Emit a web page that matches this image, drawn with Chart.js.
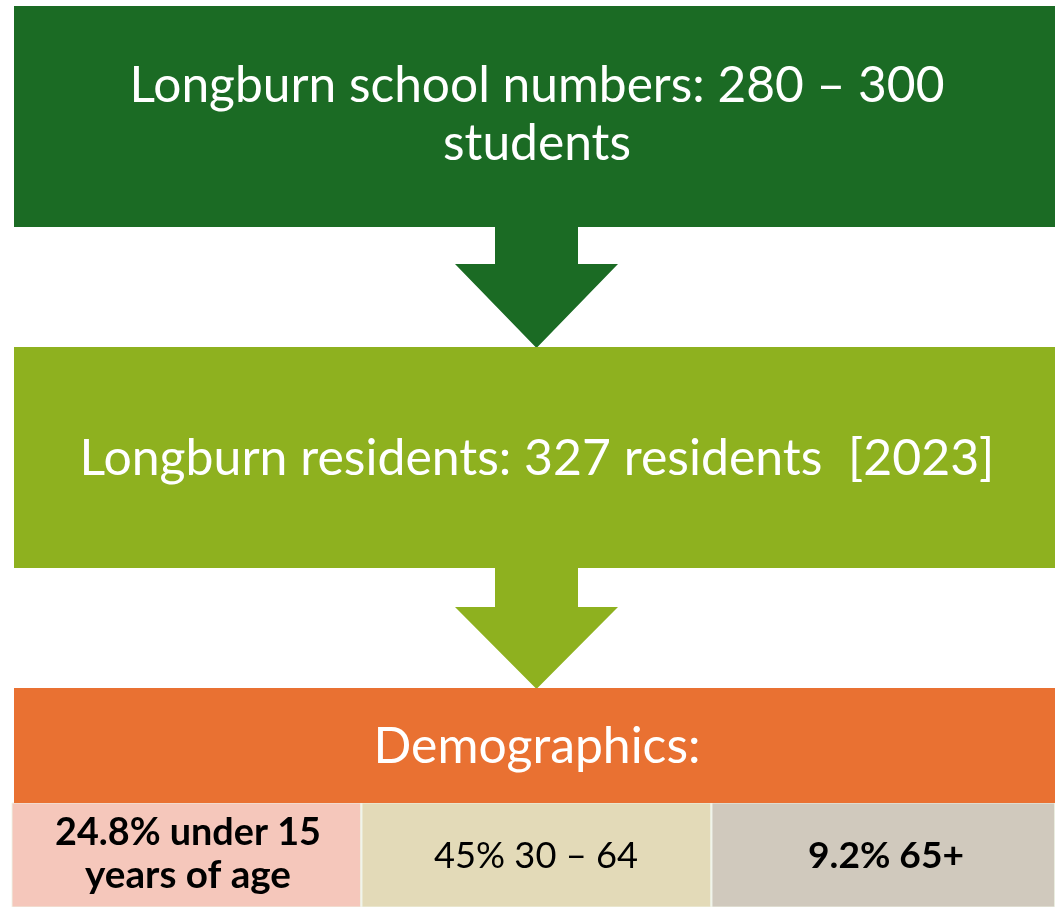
<!DOCTYPE html>
<html>
<head>
<meta charset="utf-8">
<script src="https://cdn.jsdelivr.net/npm/chart.js@4.4.0/dist/chart.umd.min.js"></script>
<style>
html,body{margin:0;padding:0;background:#fff;}
canvas{display:block;}
</style>
</head>
<body>
<canvas id="c" width="1055" height="907"></canvas>
<script>
// ---- Data (content of the infographic) ----
const schoolRange = [280, 300];
const residents = 327;
const residentsYear = 2023;
const demoLabels = ["under 15 years of age", "30 – 64", "65+"];
const demoValues = [24.8, 45, 9.2];
const stepTitles = ["Longburn school numbers", "Longburn residents", "Demographics"];

// ---- Layout (positions & styles, in canvas units) ----
const W = 1055, H = 907;
const layout = {
  boxes: [
    {x0: 14, x1: 1055, y0: 6, y1: 227, color: '#1b6b24'},
    {x0: 14, x1: 1055, y0: 347, y1: 568, color: '#8eb11f'},
    {x0: 14, x1: 1055, y0: 688, y1: 803, color: '#e97132'}
  ],
  arrows: [
    {sx0: 495, sx1: 578, y0: 226, yh: 264, hx0: 455, hx1: 618, tip: 348, color: '#1b6b24'},
    {sx0: 495, sx1: 578, y0: 567, yh: 607, hx0: 455, hx1: 618, tip: 689, color: '#8eb11f'}
  ],
  cells: [
    {x0: 12, x1: 361, y0: 803, y1: 907, color: '#f5c7bb'},
    {x0: 362, x1: 711, y0: 803, y1: 907, color: '#e3dab8'},
    {x0: 712, x1: 1055, y0: 803, y1: 907, color: '#d0c9bd'}
  ]
};

// text entries: text, center x, baseline y, target width, bold, color
const texts = [
  {t: `${stepTitles[0]}: ${schoolRange[0]} – ${schoolRange[1]}`, cx: 537, by: 102, w: 815, bold: false, color: '#ffffff'},
  {t: 'students', cx: 537, by: 160, w: 188, bold: false, color: '#ffffff'},
  {t: `${stepTitles[1]}: ${residents} residents  [${residentsYear}]`, cx: 537, by: 475, w: 915, bold: false, color: '#ffffff'},
  {t: `${stepTitles[2]}:`, cx: 537, by: 763, w: 327, bold: false, color: '#ffffff'},
  {t: `${demoValues[0]}% under 15`, cx: 188, by: 845, w: 266, bold: true, color: '#000000'},
  {t: 'years of age', cx: 188, by: 888, w: 206, bold: true, color: '#000000'},
  {t: `${demoValues[1]}% ${demoLabels[1]}`, cx: 536, by: 868, w: 204, bold: false, color: '#000000'},
  {t: `${demoValues[2]}% ${demoLabels[2]}`, cx: 886, by: 868, w: 156, bold: true, color: '#000000'}
];

function rectPts(b){ return [{x:b.x0,y:b.y0},{x:b.x1,y:b.y0},{x:b.x1,y:b.y1},{x:b.x0,y:b.y1},{x:b.x0,y:b.y0}]; }
function arrowPts(a){
  const cx = (a.hx0 + a.hx1) / 2;
  return [{x:a.sx0,y:a.y0},{x:a.sx1,y:a.y0},{x:a.sx1,y:a.yh},{x:a.hx1,y:a.yh},{x:cx,y:a.tip},{x:a.hx0,y:a.yh},{x:a.sx0,y:a.yh},{x:a.sx0,y:a.y0}];
}
function shapeDs(pts, color, border){
  return {data: pts, showLine: true, fill: 'shape', backgroundColor: color,
    borderColor: border || color, borderWidth: border ? 1 : 0, pointRadius: 0, tension: 0};
}
const datasets = [];
layout.boxes.forEach(b => datasets.push(shapeDs(rectPts(b), b.color)));
layout.arrows.forEach(a => datasets.push(shapeDs(arrowPts(a), a.color)));
layout.cells.forEach(c => datasets.push(shapeDs(rectPts(c), c.color, 'rgba(240,244,232,0.9)')));

const textPlugin = {
  id: 'texts',
  afterDatasetsDraw(chart){
    const ctx = chart.ctx, xs = chart.scales.x, ys = chart.scales.y;
    ctx.save();
    ctx.textAlign = 'center';
    ctx.textBaseline = 'alphabetic';
    texts.forEach(o => {
      const fam = '"Lato", "Noto Sans", sans-serif';
      const wt = o.bold ? 'bold ' : '';
      ctx.font = wt + '100px ' + fam;
      const tw = xs.getPixelForValue(o.w) - xs.getPixelForValue(0);
      const m = ctx.measureText(o.t).width;
      const size = 100 * tw / m;
      ctx.font = wt + size.toFixed(2) + 'px ' + fam;
      ctx.fillStyle = o.color;
      ctx.fillText(o.t, xs.getPixelForValue(o.cx), ys.getPixelForValue(o.by));
    });
    ctx.restore();
  }
};

new Chart(document.getElementById('c'), {
  type: 'scatter',
  data: {datasets},
  options: {
    responsive: false,
    animation: false,
    layout: {padding: 0},
    plugins: {legend: {display: false}, tooltip: {enabled: false}},
    scales: {
      x: {type: 'linear', min: 0, max: W, display: false},
      y: {type: 'linear', min: 0, max: H, reverse: true, display: false}
    }
  },
  plugins: [textPlugin]
});
</script>
</body>
</html>
